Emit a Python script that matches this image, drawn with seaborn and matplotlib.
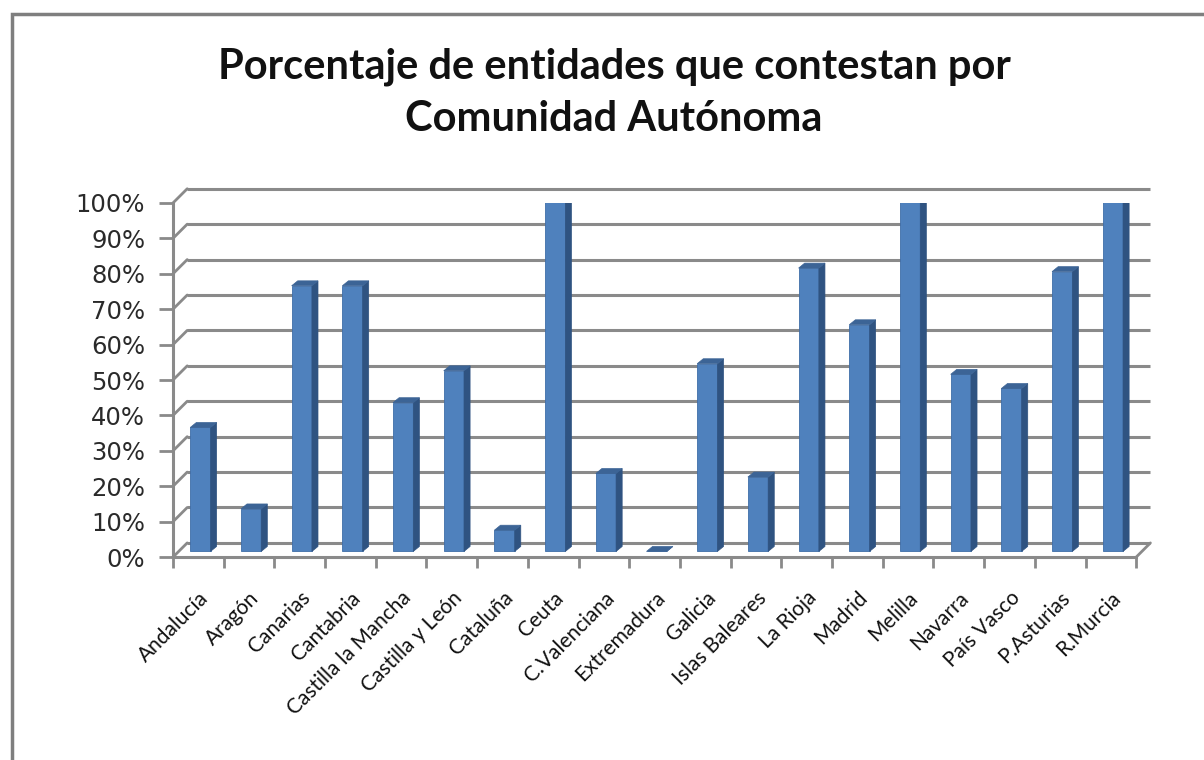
import matplotlib
matplotlib.use("Agg")
import matplotlib.pyplot as plt
import seaborn as sns
import pandas as pd
from matplotlib.patches import Polygon, Rectangle
from matplotlib.ticker import FuncFormatter

regions = ["Andalucía", "Aragón", "Canarias", "Cantabria", "Castilla la Mancha",
           "Castilla y León", "Cataluña", "Ceuta", "C.Valenciana", "Extremadura",
           "Galicia", "Islas Baleares", "La Rioja", "Madrid", "Melilla", "Navarra",
           "País Vasco", "P.Asturias", "R.Murcia"]
percent = [35, 12, 75, 75, 42, 51, 6, 100, 22, 0, 53, 21, 80, 64, 100, 50, 46, 79, 100]
y_ticks = [0, 10, 20, 30, 40, 50, 60, 70, 80, 90, 100]
title = "Porcentaje de entidades que contestan por\nComunidad Autónoma"

sns.set_theme(style="white")
plt.rcParams["font.family"] = ["Lato", "DejaVu Sans"]

df = pd.DataFrame({"region": regions, "pct": percent})

fig = plt.figure(figsize=(12.04, 7.6), dpi=100)
ax = fig.add_axes([0.1437, 0.267, 0.80, 0.466])

grid_c = "#8a8a8a"
dx, dy = 0.28, 4.0   # back-wall offset (data units)
n = len(regions)

ax.set_xlim(-0.5, n - 0.5)
ax.set_ylim(0, 100)
# back-wall gridlines with perspective connectors
for v in y_ticks:
    ax.plot([-0.5 + dx, n - 0.5 + dx], [v + dy, v + dy], color=grid_c,
            lw=2.2, zorder=0, clip_on=False, solid_capstyle="butt")
    ax.plot([-0.5, -0.5 + dx], [v, v + dy], color=grid_c, lw=2, zorder=0, clip_on=False)
ax.plot([n - 0.5, n - 0.5 + dx], [0, dy], color=grid_c, lw=2, zorder=0, clip_on=False)

sns.barplot(data=df, x="region", y="pct", color="#4F81BD", saturation=1,
            width=0.4, ax=ax, zorder=3)

# 3D side and top faces derived from the bar patches
sdx, sdy = 0.12, 1.4
for p in list(ax.patches):
    p.set_x(p.get_x() + 0.04)
    p.set_y(p.get_y() + 1.6)
    x0, y0 = p.get_x(), p.get_y()
    w, h = p.get_width(), p.get_height()
    top_y = y0 + h
    p.set_edgecolor("#3f6ea8")
    p.set_linewidth(0.6)
    side = Polygon([(x0 + w, y0), (x0 + w + sdx, y0 + sdy), (x0 + w + sdx, top_y + sdy),
                    (x0 + w, top_y)], closed=True, facecolor="#2F5381",
                   edgecolor="#2F5381", lw=0.5, zorder=3)
    top = Polygon([(x0, top_y), (x0 + sdx, top_y + sdy), (x0 + w + sdx, top_y + sdy),
                   (x0 + w, top_y)], closed=True, facecolor="#3C6496",
                  edgecolor="#3C6496", lw=0.5, zorder=3)
    ax.add_patch(side)
    ax.add_patch(top)

ax.set_yticks(y_ticks)
ax.yaxis.set_major_formatter(FuncFormatter(lambda v, _: f"{int(v)}%"))
ax.tick_params(axis="y", labelsize=17.5, length=10, width=2, color=grid_c, left=True,
               pad=10, labelcolor="#2a2a2a")
for t in ax.get_yticklabels():
    t.set_fontfamily("DejaVu Sans")
ax.set_xticks(range(n))
ax.set_xticklabels(regions, rotation=45, ha="right", rotation_mode="anchor",
                   fontsize=15, color="#111111")
ax.set_xticks([i - 0.5 for i in range(n + 1)], minor=True)
ax.tick_params(axis="x", which="major", length=0, pad=22)
ax.tick_params(axis="x", which="minor", length=8, width=2, color=grid_c, bottom=True)
ax.set_xlabel("")
ax.set_ylabel("")

for s in ["top", "right"]:
    ax.spines[s].set_visible(False)
for s in ["left", "bottom"]:
    ax.spines[s].set_color(grid_c)
    ax.spines[s].set_linewidth(2.2)

fig.text(0.51, 0.878, title, ha="center", va="center", fontsize=30,
         fontweight="bold", linespacing=1.45, color="#111111")

fig.patches.append(Rectangle((12 / 1204, -0.1), 1.2, 0.1 + (760 - 14) / 760,
                             transform=fig.transFigure, fill=False,
                             edgecolor="#7f7f7f", lw=2.5))

fig.savefig("out.png", dpi=100)
